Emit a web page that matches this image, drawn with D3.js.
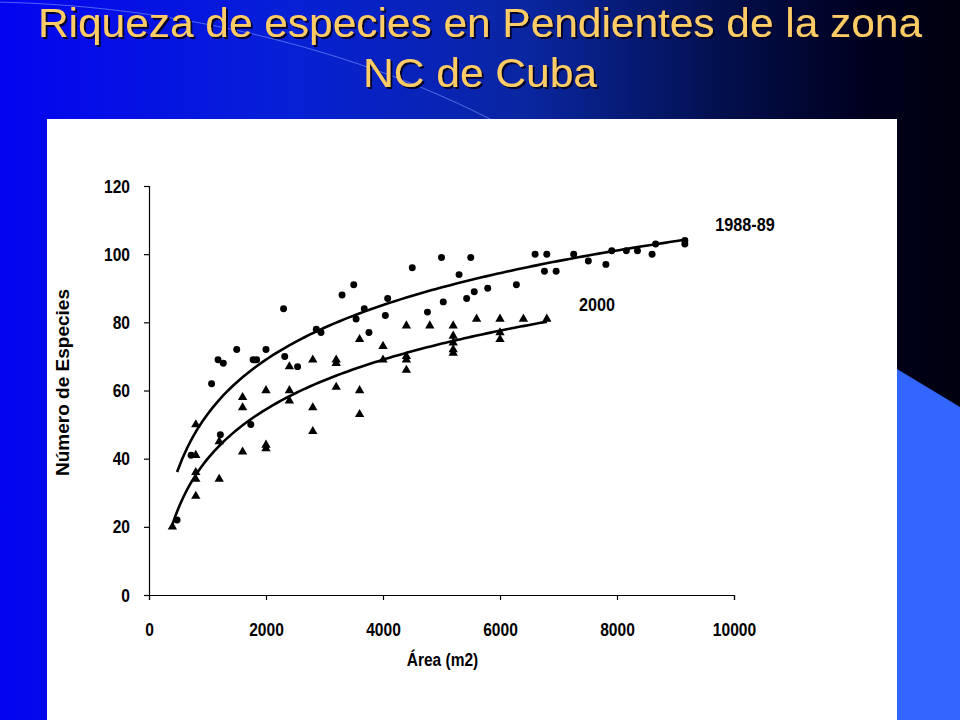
<!DOCTYPE html>
<html>
<head>
<meta charset="utf-8">
<script src="https://cdn.jsdelivr.net/npm/d3@7"></script>
<style>
  body { margin: 0; background: #000; }
  svg { display: block; }
  .tick text { font-family: "Liberation Sans", Arial, sans-serif; font-weight: bold; }
</style>
</head>
<body>
<svg id="chart"></svg>
<script>
// data
const titleLines = ["Riqueza de especies en Pendientes de la zona", "NC de Cuba"];
const seriesNames = ["1988-89", "2000"];

const area1988 = [480, 720, 1070, 1180, 1270, 1220, 1500, 1740, 1780, 1840, 2000, 2300, 2320, 2540,
  2860, 2940, 3300, 3500, 3540, 3680, 3760, 4040, 4080, 4500, 4760, 5000, 5030, 5300, 5430, 5500,
  5560, 5790, 6280, 6600, 6800, 6760, 6960, 7260, 7510, 7810, 7910, 8160, 8350, 8600, 8660, 9160, 9160];
const species1988 = [22, 41, 62, 69, 68, 47, 72, 50, 69, 69, 72, 84, 70, 67,
  78, 77, 88, 91, 81, 84, 77, 82, 87, 96, 83, 99, 86, 94, 87, 99,
  89, 90, 91, 100, 100, 95, 95, 100, 98, 97, 101, 101, 101, 100, 103, 104, 103];

const area2000 = [400, 800, 800, 800, 800, 800, 1200, 1200, 1600, 1600, 1600, 2000, 2000, 2000,
  2400, 2400, 2400, 2800, 2800, 2800, 3200, 3200, 3200, 3600, 3600, 3600, 4000, 4000,
  4400, 4400, 4400, 4400, 4800, 5200, 5200, 5200, 5200, 5200, 5600, 6000, 6000, 6000, 6400, 6800];
const species2000 = [20, 50, 41, 36, 34, 29, 45, 34, 58, 55, 42, 60, 44, 43,
  67, 60, 57, 69, 55, 48, 69, 68, 61, 75, 60, 53, 73, 69,
  79, 70, 69, 66, 79, 79, 76, 74, 72, 71, 81, 81, 77, 75, 81, 81];

const xTicks = [0, 2000, 4000, 6000, 8000, 10000];
const yTicks = [0, 20, 40, 60, 80, 100, 120];

class SlideChart {

  constructor(_config) {
    this.config = {
      parentElement: _config.parentElement,
      containerWidth: _config.containerWidth || 960,
      containerHeight: _config.containerHeight || 720,
      margin: { top: 186, left: 149 },
      width: 585,
      height: 409
    }
    this.initVis();
  }

  initVis() {
    let vis = this;

    vis.svg = d3.select(vis.config.parentElement)
        .attr('width', vis.config.containerWidth)
        .attr('height', vis.config.containerHeight);

    // slide background
    let defs = vis.svg.append('defs');
    let grad = defs.append('linearGradient').attr('id', 'bg').attr('x1', 0).attr('x2', 1).attr('y1', 0).attr('y2', 0);
    [[0, '#0404f0'], [0.3, '#0620d6'], [0.55, '#0a26a0'], [0.75, '#03104e'], [0.9, '#00001f'], [1, '#00000e']]
      .forEach(s => grad.append('stop').attr('offset', s[0]).attr('stop-color', s[1]));

    defs.append('filter').attr('id', 'shadow')
        .attr('x', '-5%').attr('y', '-20%').attr('width', '110%').attr('height', '140%')
      .append('feDropShadow')
        .attr('dx', 2).attr('dy', 2).attr('stdDeviation', 0.6)
        .attr('flood-color', '#000022').attr('flood-opacity', 0.95);

    vis.svg.append('rect')
        .attr('width', vis.config.containerWidth)
        .attr('height', vis.config.containerHeight)
        .attr('fill', 'url(#bg)');

    vis.svg.append('path')
        .attr('d', 'M-10,2 C150,4 350,40 520,135')
        .attr('fill', 'none')
        .attr('stroke', '#7f9cff')
        .attr('stroke-opacity', 0.6)
        .attr('stroke-width', 1);

    vis.svg.append('path')
        .attr('d', 'M897,369 L960,407 L960,720 L897,720 Z')
        .attr('fill', '#3366ff');

    // title
    let title = vis.svg.append('g')
        .attr('font-family', '"Liberation Sans", Arial, sans-serif')
        .attr('font-size', 40)
        .attr('text-anchor', 'middle')
        .attr('filter', 'url(#shadow)');
    const titleY = [36.5, 87];
    const titleW = [884, 234];
    titleLines.forEach((t, i) => {
      title.append('text')
          .attr('x', 480)
          .attr('y', titleY[i])
          .attr('textLength', titleW[i])
          .attr('lengthAdjust', 'spacingAndGlyphs')
          .attr('fill', '#ffcc66')
          .text(t);
    });

    // white chart panel
    vis.svg.append('rect')
        .attr('x', 47).attr('y', 119)
        .attr('width', 850).attr('height', 601)
        .attr('fill', '#ffffff');

    vis.chart = vis.svg.append('g')
        .attr('transform', `translate(${vis.config.margin.left},${vis.config.margin.top})`);

    vis.xScale = d3.scaleLinear().domain([0, 10000]).range([0, vis.config.width]);
    vis.yScale = d3.scaleLinear().domain([0, 120]).range([vis.config.height, 0]);

    vis.xAxis = d3.axisBottom(vis.xScale).tickValues(xTicks).tickSize(5).tickPadding(23).tickFormat(d3.format('d'));
    vis.yAxis = d3.axisLeft(vis.yScale).tickValues(yTicks).tickSize(5).tickPadding(14);

    vis.updateVis();
  }

  // log trendline as Excel would fit it
  logFit(xs, ys) {
    let lx = xs.map(Math.log);
    let mx = d3.mean(lx), my = d3.mean(ys);
    let a = d3.sum(lx, (v, i) => (v - mx) * (ys[i] - my)) / d3.sum(lx, v => (v - mx) * (v - mx));
    return { a: a, b: my - a * mx };
  }

  updateVis() {
    let vis = this;
    vis.series = [
      { name: seriesNames[0], xs: area1988, ys: species1988, symbol: 'circle' },
      { name: seriesNames[1], xs: area2000, ys: species2000, symbol: 'triangle' }
    ];
    vis.series.forEach(s => {
      s.fit = vis.logFit(s.xs, s.ys);
      let lo = d3.min(s.xs), hi = d3.max(s.xs);
      s.curve = d3.range(0, 101).map(k => {
        let x = lo + (hi - lo) * k / 100;
        return [x, s.fit.a * Math.log(x) + s.fit.b];
      });
    });
    vis.renderVis();
  }

  // the pasted chart is squeezed sideways: narrow each label a bit
  squeeze(sel, f) {
    sel.each(function() {
      let w = this.getComputedTextLength();
      d3.select(this).attr('textLength', w * f).attr('lengthAdjust', 'spacingAndGlyphs');
    });
  }

  renderVis() {
    let vis = this;

    let xg = vis.chart.append('g')
        .attr('transform', `translate(0,${vis.config.height})`)
        .call(vis.xAxis);
    let yg = vis.chart.append('g').call(vis.yAxis);
    [xg, yg].forEach(g => {
      g.selectAll('path, line').attr('stroke', '#000').attr('stroke-width', 1.2);
      g.selectAll('text').attr('font-size', 19).attr('fill', '#000');
      vis.squeeze(g.selectAll('text'), 0.82);
    });

    let xlab = vis.chart.append('text')
        .attr('x', vis.config.width / 2 + 1)
        .attr('y', 480)
        .attr('text-anchor', 'middle')
        .attr('font-family', '"Liberation Sans", Arial, sans-serif')
        .attr('font-weight', 'bold')
        .attr('font-size', 18)
        .text('Área (m2)');
    vis.squeeze(xlab, 0.86);

    vis.chart.append('text')
        .attr('transform', `translate(-80,${vis.config.height / 2 - 8}) rotate(-90)`)
        .attr('text-anchor', 'middle')
        .attr('font-family', '"Liberation Sans", Arial, sans-serif')
        .attr('font-weight', 'bold')
        .attr('font-size', 19)
        .text('Número de Especies');

    let line = d3.line()
        .x(d => vis.xScale(d[0]))
        .y(d => vis.yScale(d[1]));

    vis.chart.selectAll('.trend')
      .data(vis.series)
      .join('path')
        .attr('class', 'trend')
        .attr('d', d => line(d.curve))
        .attr('fill', 'none')
        .attr('stroke', '#000')
        .attr('stroke-width', 2.6);

    let circ = d3.symbol().type(d3.symbolCircle).size(38);
    let tri = d3.symbol().type(d3.symbolTriangle).size(38);

    vis.series.forEach((s, si) => {
      vis.chart.selectAll('.pt' + si)
        .data(s.xs.map((x, i) => [x, s.ys[i]]))
        .join('path')
          .attr('class', 'pt' + si)
          .attr('transform', d => `translate(${vis.xScale(d[0])},${vis.yScale(d[1])})`)
          .attr('d', s.symbol === 'circle' ? circ : tri)
          .attr('fill', '#000');
    });

    // series labels next to line ends
    const labelPos = [[9680, 106.8], [7350, 83.3]];
    let slabels = vis.chart.selectAll('.slabel')
      .data(vis.series)
      .join('text')
        .attr('class', 'slabel')
        .attr('x', (d, i) => vis.xScale(labelPos[i][0]))
        .attr('y', (d, i) => vis.yScale(labelPos[i][1]))
        .attr('font-family', '"Liberation Sans", Arial, sans-serif')
        .attr('font-weight', 'bold')
        .attr('font-size', 18)
        .text(d => d.name);
    vis.squeeze(slabels, 0.9);
  }
}

let chart = new SlideChart({ parentElement: '#chart' });
</script>
</body>
</html>
